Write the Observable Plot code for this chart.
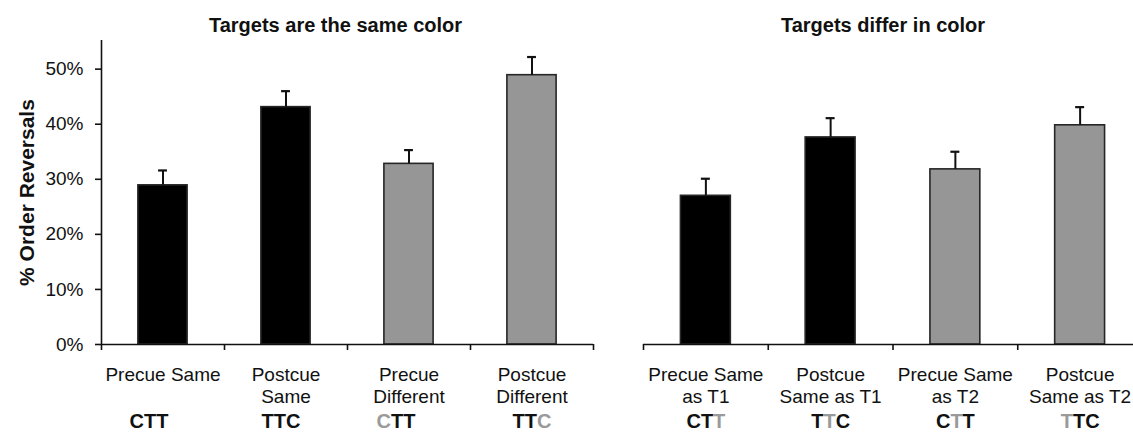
<!DOCTYPE html>
<html>
<head>
<meta charset="utf-8">
<script src="https://cdn.jsdelivr.net/npm/d3@7"></script>
<script src="https://cdn.jsdelivr.net/npm/@observablehq/plot@0.6"></script>
<style>
  html, body { margin: 0; padding: 0; background: #fff; }
  #wrap { width: 1133px; height: 433px; overflow: hidden; display: flex; flex-direction: row; }
  #wrap svg { flex: none; }
</style>
</head>
<body>
<div id="wrap"></div>
<script>
// ---- data ----
const leftTitle = "Targets are the same color";
const rightTitle = "Targets differ in color";
const yLabel = "% Order Reversals";

const leftLabels = [["Precue Same"], ["Postcue", "Same"], ["Precue", "Different"], ["Postcue", "Different"]];
const rightLabels = [["Precue Same", "as T1"], ["Postcue", "Same as T1"], ["Precue Same", "as T2"], ["Postcue", "Same as T2"]];

const leftMeans = [0.289, 0.431, 0.328, 0.489];
const leftSE    = [0.027, 0.029, 0.025, 0.033];
const rightMeans = [0.270, 0.376, 0.318, 0.398];
const rightSE    = [0.031, 0.035, 0.032, 0.033];

const barGroup = ["dark", "dark", "light", "light"];

const codes = ["CTT", "TTC", "CTT", "TTC"];
const leftGrayLetter  = [null, null, 0, 2];
const rightGrayLetter = [2, 1, 1, 0];

const yTicks = [0, 0.1, 0.2, 0.3, 0.4, 0.5];

// ---- helpers ----
const FONT = "'Liberation Sans', Arial, Helvetica, sans-serif";
const boldW = {C: 0.722, T: 0.611};
const CODE_SIZE = 20;

function letterRows(grayIdx, nudge) {
  const rows = [];
  codes.forEach((code, i) => {
    const total = [...code].reduce((s, c) => s + boldW[c] * CODE_SIZE, 0);
    let off = -total / 2 + (nudge ? nudge[i] : 0);
    [...code].forEach((c, j) => {
      rows.push({i, c, gray: grayIdx[i] === j, off});
      off += boldW[c] * CODE_SIZE;
    });
  });
  return rows;
}

function panel({title, labels, means, se, grayIdx, width, marginLeft, marginRight, showY, codeNudge, titleDx}) {
  const pxPerUnit = (width - marginLeft - marginRight) / 4;
  const rows = means.map((m, i) => ({i, m, top: m + se[i], g: barGroup[i]}));
  const line1 = labels.map((l, i) => ({i, t: l[0]}));
  const line2 = [];
  labels.forEach((l, i) => { if (l.length > 1) line2.push({i, t: l[1]}); });
  const letters = letterRows(grayIdx, codeNudge);
  const marks = [
    Plot.rectY(rows, {
      x1: d => d.i + 0.3, x2: d => d.i + 0.7, y1: 0, y2: "m",
      fill: d => d.g === "dark" ? "#000000" : "#969696",
      stroke: "#262626", strokeWidth: 1.6
    }),
    Plot.ruleX(rows, {x: d => d.i + 0.5, y1: "m", y2: "top", stroke: "#111", strokeWidth: 2}),
    Plot.ruleY(rows, {y: "top", x1: d => d.i + 0.5 - 0.036, x2: d => d.i + 0.5 + 0.036, stroke: "#111", strokeWidth: 2.2}),
    Plot.ruleY([0], {stroke: "#111", strokeWidth: 1.6}),
    Plot.axisX({ticks: [0, 1, 2, 3, 4], tickFormat: () => "", tickSize: 6, strokeWidth: 1.6, stroke: "#111"}),
    Plot.text(line1, {x: d => d.i + 0.5, text: "t", frameAnchor: "bottom", dy: 30, lineAnchor: "middle", textAnchor: "middle", fontSize: 19, fill: "#111"}),
    Plot.text(line2, {x: d => d.i + 0.5, text: "t", frameAnchor: "bottom", dy: 52, lineAnchor: "middle", textAnchor: "middle", fontSize: 19, fill: "#111"}),
    Plot.text(letters, {x: d => d.i + 0.5 + d.off / pxPerUnit, text: "c", frameAnchor: "bottom", dy: 77,
      lineAnchor: "middle", textAnchor: "start", fontSize: CODE_SIZE, fontWeight: "bold",
      fill: d => d.gray ? "#9a9a9a" : "#111"}),
    Plot.text([title], {frameAnchor: "top", dy: -15, dx: titleDx, lineAnchor: "middle", textAnchor: "middle", fontSize: 20, fontWeight: "bold", fill: "#111"})
  ];
  if (showY) {
    marks.push(
      Plot.ruleX([0], {stroke: "#111", strokeWidth: 1.6}),
      Plot.axisY({ticks: yTicks, tickFormat: d3.format(".0%"), tickSize: 6, tickPadding: 12, fontSize: 19, strokeWidth: 1.6, stroke: "#111", label: null}),
      Plot.text([yLabel], {frameAnchor: "left", dx: -74, dy: 0, rotate: -90, textAnchor: "middle", lineAnchor: "middle", fontSize: 21, fontWeight: "bold", fill: "#111"})
    );
  }
  return Plot.plot({
    width, height: 433,
    marginLeft, marginRight, marginTop: 40, marginBottom: 89,
    style: {fontFamily: FONT, fontSize: "19px", background: "#fff", color: "#111", overflow: "visible"},
    x: {type: "linear", domain: [0, 4], axis: null},
    y: {domain: [0, 0.552], axis: null},
    marks
  });
}

const left = panel({title: leftTitle, labels: leftLabels, means: leftMeans, se: leftSE, grayIdx: leftGrayLetter,
  width: 620, marginLeft: 101, marginRight: 27, showY: true, codeNudge: [-14, -5, -13, 0], titleDx: -12});
const right = panel({title: rightTitle, labels: rightLabels, means: rightMeans, se: rightSE, grayIdx: rightGrayLetter,
  width: 530, marginLeft: 23, marginRight: 8, showY: false, codeNudge: null, titleDx: -10});

document.getElementById("wrap").append(left, right);
</script>
</body>
</html>
